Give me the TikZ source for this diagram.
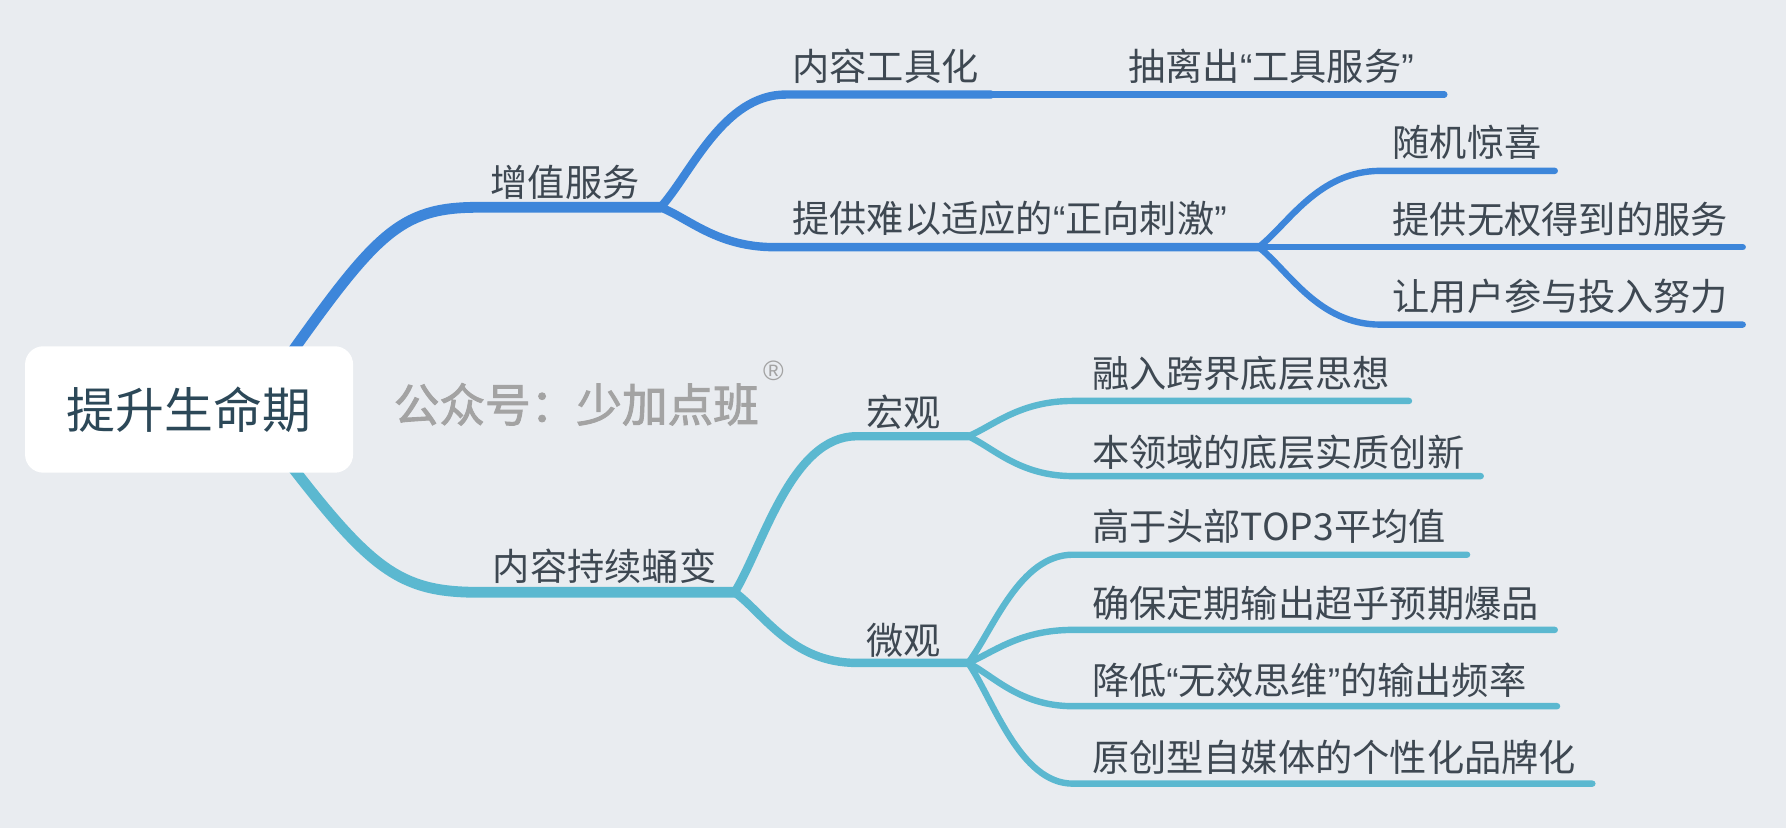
\documentclass[tikz,border=0pt]{standalone}
\usepackage{fontspec}
\setmainfont{Liberation Sans}
\newfontfamily\cjk{Noto Sans CJK SC}
\newfontfamily\cjkw[AutoFakeBold=2]{Noto Sans CJK SC}
\newfontfamily\latq{Liberation Sans}
\newcommand\qo{{\latq “}}
\newcommand\qc{{\latq ”}}
\definecolor{bgc}{HTML}{E9ECF0}
\definecolor{blueb}{HTML}{3D86DA}
\definecolor{tealb}{HTML}{5BB8D0}
\definecolor{txtc}{HTML}{3E4852}
\definecolor{roottxt}{HTML}{2C4858}
\definecolor{wmc}{HTML}{A3A3A3}
\tikzset{
  lbl/.style={anchor=west,inner sep=0pt,text=txtc,font=\cjk\fontsize{9.3pt}{11pt}\selectfont},
  lvA/.style={line width=2.7pt,line cap=round},
  lvB/.style={line width=2.1pt,line cap=round},
  lvC/.style={line width=1.6pt,line cap=round},
}
\begin{document}
\begin{tikzpicture}[x=0.1mm,y=-0.1mm]
\fill[bgc] (0,0) rectangle (1568,727);
\useasboundingbox (0,0) rectangle (1568,727);

% coordinates
\coordinate (rb0) at (245,325);
\coordinate (a1) at (420,182);
\coordinate (j1) at (580,182);
\coordinate (b1) at (690,83);
\coordinate (b1e) at (870,83);
\coordinate (c1e) at (1268,83);
\coordinate (b2) at (680,217);
\coordinate (j2) at (1105,217);
\coordinate (c2) at (1212,150);
\coordinate (c2e) at (1365,150);
\coordinate (c3e) at (1530,217);
\coordinate (c4) at (1212,285);
\coordinate (c4e) at (1530,285);

\coordinate (rt0) at (245,395);
\coordinate (a2) at (420,520);
\coordinate (j3) at (645,520);
\coordinate (b3) at (752,383);
\coordinate (j4) at (850,383);
\coordinate (b4) at (752,582);
\coordinate (j5) at (850,582);
\coordinate (d1) at (942,352);
\coordinate (d1e) at (1237,352);
\coordinate (d2) at (942,418);
\coordinate (d2e) at (1300,418);
\coordinate (e1) at (942,487);
\coordinate (e1e) at (1288,487);
\coordinate (e2) at (942,553);
\coordinate (e2e) at (1365,553);
\coordinate (e3) at (942,620);
\coordinate (e3e) at (1367,620);
\coordinate (e4) at (942,688);
\coordinate (e4e) at (1398,688);

% blue branch
\begin{scope}[draw=blueb]
\draw[lvA] (rb0) .. controls (330,205) and (350,182) .. (a1) -- (j1);
\draw[lvB] (j1) .. controls (607,152) and (635,83) .. (b1) -- (b1e);
\draw[lvC] (b1e) -- (c1e);
\draw[lvB] (j1) .. controls (605,192) and (630,217) .. (b2) -- (j2);
\draw[lvC] (j2) .. controls (1131,197) and (1157,150) .. (c2) -- (c2e);
\draw[lvC] (j2) -- (c3e);
\draw[lvC] (j2) .. controls (1131,237) and (1157,285) .. (c4) -- (c4e);
\end{scope}

% teal branch
\begin{scope}[draw=tealb]
\draw[lvA] (rt0) .. controls (325,500) and (350,520) .. (a2) -- (j3);
\draw[lvB] (j3) .. controls (670,479) and (695,383) .. (b3) -- (j4);
\draw[lvB] (j3) .. controls (670,538) and (695,582) .. (b4) -- (j5);
\draw[lvC] (j4) .. controls (872,374) and (895,352) .. (d1) -- (d1e);
\draw[lvC] (j4) .. controls (872,393) and (895,418) .. (d2) -- (d2e);
\draw[lvC] (j5) .. controls (872,553) and (895,487) .. (e1) -- (e1e);
\draw[lvC] (j5) .. controls (872,573) and (895,553) .. (e2) -- (e2e);
\draw[lvC] (j5) .. controls (872,593) and (895,620) .. (e3) -- (e3e);
\draw[lvC] (j5) .. controls (872,614) and (895,688) .. (e4) -- (e4e);
\end{scope}

% root
\node[fill=white,rounded corners=1.6mm,minimum width=28.8mm,minimum height=11.1mm,inner sep=0pt,
  text=roottxt,font=\cjk\fontsize{12.2pt}{14pt}\selectfont] (root) at (166,359.5) {提升生命期};

% labels
\node[lbl] (n1) at (430,160) {增值服务};
\node[lbl] (n11) at (695,58) {内容工具化};
\node[lbl] (n111) at (990,58) {抽离出\qo 工具服务\qc};
\node[lbl] (n12) at (695,192) {提供难以适应的\qo 正向刺激\qc};
\node[lbl] (n121) at (1222,125) {随机惊喜};
\node[lbl] (n122) at (1222,193) {提供无权得到的服务};
\node[lbl] (n123) at (1222,260) {让用户参与投入努力};

\node[lbl] (n2) at (432,497) {内容持续蛹变};
\node[lbl] (n21) at (760,362) {宏观};
\node[lbl] (n211) at (958,328) {融入跨界底层思想};
\node[lbl] (n212) at (958,397) {本领域的底层实质创新};
\node[lbl] (n22) at (760,562) {微观};
\node[lbl] (n221) at (958,462) {高于头部TOP3平均值};
\node[lbl] (n222) at (958,530) {确保定期输出超乎预期爆品};
\node[lbl] (n223) at (958,597) {降低\qo 无效思维\qc 的输出频率};
\node[lbl] (n224) at (958,665) {原创型自媒体的个性化品牌化};

% watermark
\node[anchor=west,inner sep=0pt,text=wmc,font=\cjkw\bfseries\fontsize{11.4pt}{13pt}\selectfont] (wm) at (345,355) {公众号：少加点班};
\node[anchor=center,inner sep=0pt,text=wmc,font=\latq\fontsize{7pt}{8pt}\selectfont] (reg) at (679,326) {®};
\end{tikzpicture}
\end{document}
